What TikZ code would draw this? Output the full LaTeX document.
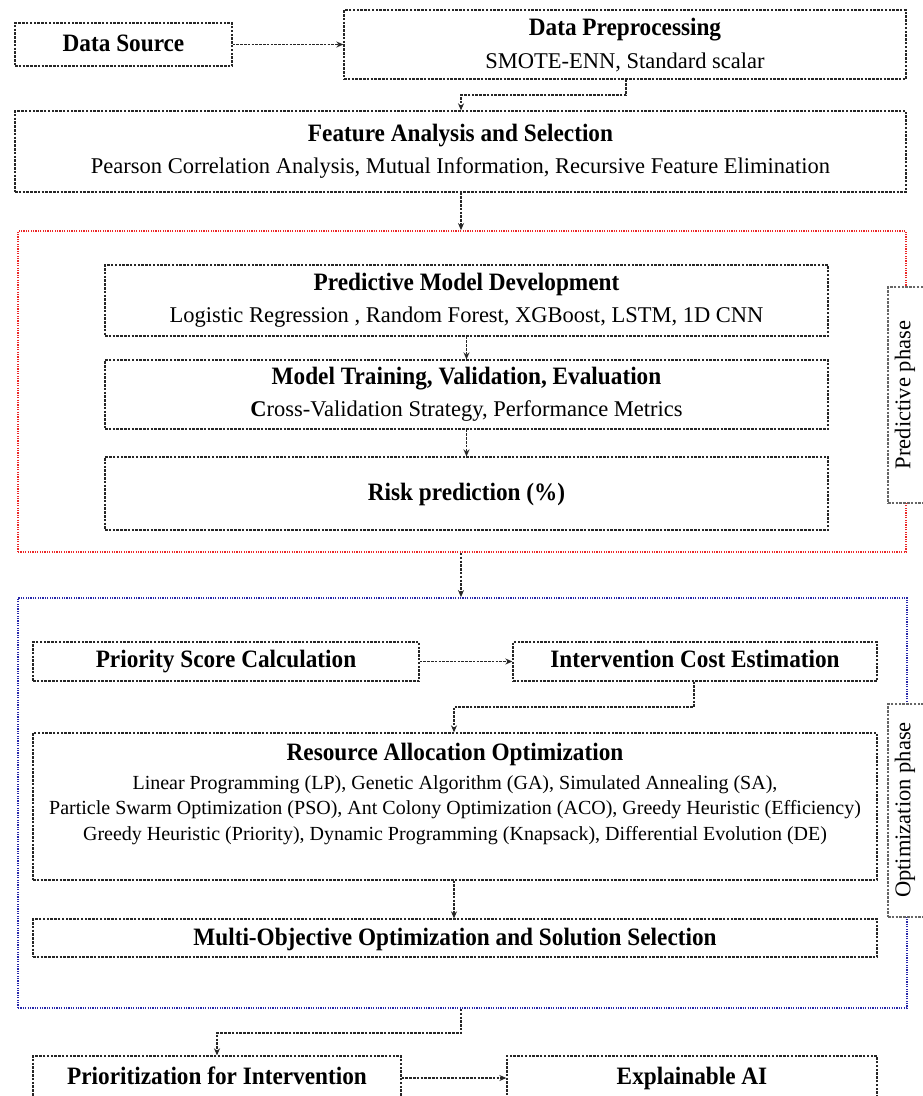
\documentclass[tikz,border=0pt]{standalone}
\usepackage{fontspec}
\setmainfont{Liberation Serif}
\newfontfamily\titlefont[FakeStretch=0.93]{Liberation Serif}
\usetikzlibrary{arrows.meta,fit}
\begin{document}
\begin{tikzpicture}[x=1pt,y=-1pt,
  box/.style={draw=black!85, dash pattern=on 2.5pt off 1.3pt, line width=1.3pt, inner sep=0pt},
  lblbox/.style={draw=black!60, dash pattern=on 2.5pt off 1.3pt, line width=1.3pt, inner sep=0pt, fill=white},
  redbox/.style={draw={rgb,255:red,235;green,40;blue,40}, dash pattern=on 1.2pt off 1.2pt, line width=1.8pt, inner sep=0pt},
  bluebox/.style={draw={rgb,255:red,40;green,40;blue,170}, dash pattern=on 1.2pt off 1.2pt, line width=1.8pt, inner sep=0pt},
  arr/.style={draw=black!85, dash pattern=on 2.5pt off 1.3pt, line width=1.3pt, -{Stealth[length=7pt,width=6pt]}},
  ttl/.style={font=\titlefont\bfseries\fontsize{25}{28}\selectfont, inner sep=0pt, text height=0.68em, text depth=0.2em},
  sub/.style={font=\fontsize{22.5}{26}\selectfont, inner sep=0pt, text height=0.68em, text depth=0.2em},
  lst/.style={font=\fontsize{20}{25.5}\selectfont, inner sep=0pt, align=center},
  lbl/.style={font=\fontsize{22.5}{26}\selectfont, inner sep=0pt, rotate=90, text height=0.68em, text depth=0.2em}
]
\useasboundingbox (0,0) rectangle (923,1096);
\clip (0,0) rectangle (923,1096);

% top boxes
\node[box, fit={(15,23) (232,66)}] (ds) {};
\node[box, fit={(344,10) (906,79)}] (dp) {};
\node[box, fit={(15,111) (906,192)}] (fas) {};
\node[ttl] (dst) at (123.5,49) {Data Source};
\node[ttl] (dpt) at (625,33) {Data Preprocessing};
\node[sub] (dps) at (625,66) {SMOTE-ENN, Standard scalar};
\node[ttl] (fast) at (460.5,139) {Feature Analysis and Selection};
\node[sub] (fass) at (460.5,171) {Pearson Correlation Analysis, Mutual Information, Recursive Feature Elimination};

% predictive phase
\node[redbox, fit={(18,231) (906,552)}] (red) {};
\node[lblbox, fit={(888,287) (940,503)}] (pl) {};
\node[lbl] (plt) at (908,395) {Predictive phase};
\node[box, fit={(105,265) (828,336)}] (pmd) {};
\node[box, fit={(105,360) (828,429)}] (mt) {};
\node[box, fit={(105,457) (828,530)}] (rp) {};
\node[ttl] (pmdt) at (466.5,288) {Predictive Model Development};
\node[sub] (pmds) at (466.5,320) {Logistic Regression , Random Forest, XGBoost, LSTM, 1D CNN};
\node[ttl] (mtt) at (466.5,382) {Model Training, Validation, Evaluation};
\node[sub] (mts) at (466.5,414) {\textbf{C}ross-Validation Strategy, Performance Metrics};
\node[ttl] (rpt) at (466.5,498) {Risk prediction (\%)};

% optimization phase
\node[bluebox, fit={(18,598) (907,1008)}] (blue) {};
\node[lblbox, fit={(888,704) (940,917)}] (ol) {};
\node[lbl] (olt) at (908,810) {Optimization phase};
\node[box, fit={(33,642) (419,681)}] (psc) {};
\node[box, fit={(513,642) (877,681)}] (ice) {};
\node[box, fit={(33,733) (877,880)}] (rao) {};
\node[box, fit={(33,919) (877,957)}] (moo) {};
\node[ttl] (psct) at (226,665) {Priority Score Calculation};
\node[ttl] (icet) at (695,665) {Intervention Cost Estimation};
\node[ttl] (raot) at (455,758) {Resource Allocation Optimization};
\node[lst] (raos) at (455,810) {Linear Programming (LP), Genetic Algorithm (GA), Simulated Annealing (SA),\\
Particle Swarm Optimization (PSO), Ant Colony Optimization (ACO), Greedy Heuristic (Efficiency)\\
Greedy Heuristic (Priority), Dynamic Programming (Knapsack), Differential Evolution (DE)};
\node[ttl] (moot) at (455,943) {Multi-Objective Optimization and Solution Selection};

% bottom boxes
\node[box, fit={(33,1056) (401,1100)}] (pi) {};
\node[box, fit={(507,1056) (877,1100)}] (xai) {};
\node[ttl] (pit) at (217,1082) {Prioritization for Intervention};
\node[ttl] (xait) at (692,1082) {Explainable AI};

% connector bends
\coordinate (b1) at (626,95);
\coordinate (b2) at (461,95);
\coordinate (b3) at (694,707);
\coordinate (b4) at (454,707);
\coordinate (b5) at (461,1033);
\coordinate (b6) at (217,1033);

% connectors
\draw[arr] (ds.east) -- (dp.west |- ds.east);
\draw[arr] (dp.south -| b1) -- (b1) -- (b2) -- (fas.north -| b2);
\draw[arr] (fas.south -| b2) -- (red.north -| b2);
\draw[arr] (pmd.south) -- (mt.north);
\draw[arr] (mt.south) -- (rp.north);
\draw[arr] (red.south -| b2) -- (blue.north -| b2);
\draw[arr] (psc.east) -- (ice.west);
\draw[arr] (ice.south -| b3) -- (b3) -- (b4) -- (rao.north -| b4);
\draw[arr] (rao.south -| b4) -- (moo.north -| b4);
\draw[arr] (blue.south -| b5) -- (b5) -- (b6) -- (pi.north -| b6);
\draw[arr] (pi.east) -- (xai.west);
\end{tikzpicture}
\end{document}
